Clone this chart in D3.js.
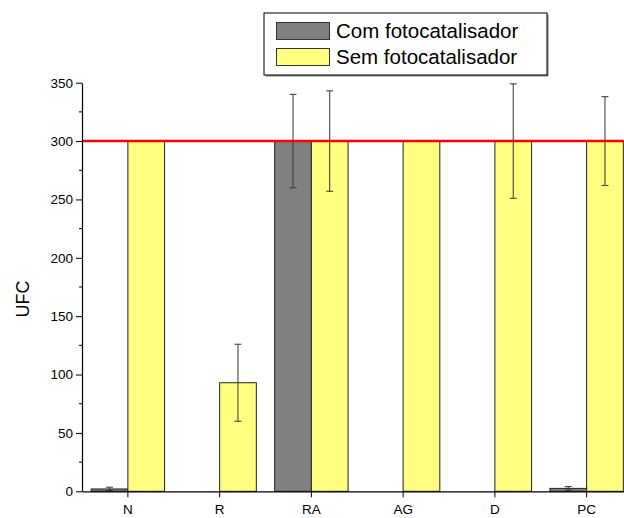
<!DOCTYPE html>
<html>
<head>
<meta charset="utf-8">
<script src="https://cdn.jsdelivr.net/npm/d3@7/dist/d3.min.js"></script>
<style>
  html, body { margin: 0; padding: 0; background: #fff; }
  svg { display: block; font-family: "Liberation Sans", Arial, sans-serif; }
</style>
</head>
<body>
<svg id="chart" width="624" height="518"></svg>
<script>
// Colony counts (UFC) per sample, with and without photocatalyst
const categories = ["N", "R", "RA", "AG", "D", "PC"];
const seriesNames = ["Com fotocatalisador", "Sem fotocatalisador"];
const comValues = [2, 0, 300, 0, 0, 2.5];
const comErrors = [1.5, 0, 40, 0, 0, 1.5];
const semValues = [300, 93, 300, 300, 300, 300];
const semErrors = [0, 33, 43, 0, 49, 38];
const yTicks = [0, 50, 100, 150, 200, 250, 300, 350];
const limitValue = 300;
const yLabel = "UFC";

const colors = ["#808080", "#ffff80"];

const svg = d3.select("#chart");
const plotLeft = 82, plotRight = 632.5, plotTop = 82.7, plotBottom = 491.3;

const x = d3.scaleBand().domain(categories).range([plotLeft, plotRight])
  .paddingInner(0.2).paddingOuter(0.1);
const xs = d3.scaleBand().domain(seriesNames).range([0, x.bandwidth()]);
const y = d3.scaleLinear().domain([0, 350]).range([plotBottom, plotTop]);

const rows = categories.map((c, i) => ({
  cat: c,
  vals: [
    { s: seriesNames[0], v: comValues[i], e: comErrors[i] },
    { s: seriesNames[1], v: semValues[i], e: semErrors[i] }
  ]
}));

// Bars
const groups = svg.append("g").selectAll("g").data(rows).join("g")
  .attr("transform", d => `translate(${x(d.cat)},0)`);

groups.selectAll("rect").data(d => d.vals).join("rect")
  .attr("x", d => xs(d.s))
  .attr("y", d => y(d.v))
  .attr("width", xs.bandwidth())
  .attr("height", d => y(0) - y(d.v))
  .attr("fill", (d, i) => colors[i])
  .attr("stroke", "#222")
  .attr("stroke-width", 1);

// Error bars
const capW = 7;
groups.selectAll("g.err").data(d => d.vals.filter(v => v.e > 0)).join("g")
  .attr("class", "err")
  .each(function (d) {
    const g = d3.select(this);
    const cx = xs(d.s) + xs.bandwidth() / 2;
    const y1 = y(d.v + d.e), y2 = y(d.v - d.e);
    g.append("line").attr("x1", cx).attr("x2", cx).attr("y1", y1).attr("y2", y2);
    g.append("line").attr("x1", cx - capW / 2).attr("x2", cx + capW / 2).attr("y1", y1).attr("y2", y1);
    g.append("line").attr("x1", cx - capW / 2).attr("x2", cx + capW / 2).attr("y1", y2).attr("y2", y2);
  })
  .selectAll("line")
  .attr("stroke", "#333")
  .attr("stroke-width", 1);

// Reference line at the count limit
svg.append("line")
  .attr("x1", plotLeft).attr("x2", 624)
  .attr("y1", y(limitValue)).attr("y2", y(limitValue))
  .attr("stroke", "#ff0000")
  .attr("stroke-width", 2.5);

// Y axis with minor ticks
const yAxis = svg.append("g").attr("transform", `translate(${plotLeft},0)`)
  .call(d3.axisLeft(y).tickValues(yTicks).tickSize(6).tickPadding(3).tickSizeOuter(0));
yAxis.select(".domain").attr("stroke", "#000").attr("stroke-width", 1.2);
yAxis.selectAll(".tick line").attr("stroke", "#000");
yAxis.selectAll(".tick text").attr("font-size", 13.5).attr("fill", "#000")
  .attr("font-family", "'Liberation Sans', Arial, sans-serif");
const minor = d3.range(25, 350, 50);
svg.append("g").selectAll("line").data(minor).join("line")
  .attr("x1", plotLeft - 3).attr("x2", plotLeft)
  .attr("y1", d => y(d)).attr("y2", d => y(d))
  .attr("stroke", "#000");

// X axis
const xAxis = svg.append("g").attr("transform", `translate(0,${plotBottom})`)
  .call(d3.axisBottom(x).tickSize(6).tickPadding(7).tickSizeOuter(0));
xAxis.select(".domain").attr("stroke", "#000").attr("stroke-width", 1.2);
xAxis.selectAll(".tick line").attr("stroke", "#000");
xAxis.selectAll(".tick text").attr("font-size", 13.5).attr("fill", "#000")
  .attr("font-family", "'Liberation Sans', Arial, sans-serif");

// Y axis title
svg.append("text")
  .attr("transform", `translate(29,${299}) rotate(-90)`)
  .attr("text-anchor", "middle")
  .attr("font-size", 18)
  .text(yLabel);

// Legend
const lg = svg.append("g");
lg.append("rect").attr("x", 265.5).attr("y", 14.5).attr("width", 283).attr("height", 62)
  .attr("fill", "#888");
lg.append("rect").attr("x", 264).attr("y", 13).attr("width", 283).attr("height", 62)
  .attr("fill", "#fff").attr("stroke", "#000").attr("stroke-width", 1);
seriesNames.forEach((name, i) => {
  const yy = 22 + i * 26;
  lg.append("rect").attr("x", 276.5).attr("y", yy + 0.5).attr("width", 53).attr("height", 17)
    .attr("fill", colors[i]).attr("stroke", "#333").attr("stroke-width", 1);
  lg.append("text").attr("x", 336).attr("y", yy + 15.5)
    .attr("font-size", 20.5).attr("fill", "#000").text(name);
});
</script>
</body>
</html>
